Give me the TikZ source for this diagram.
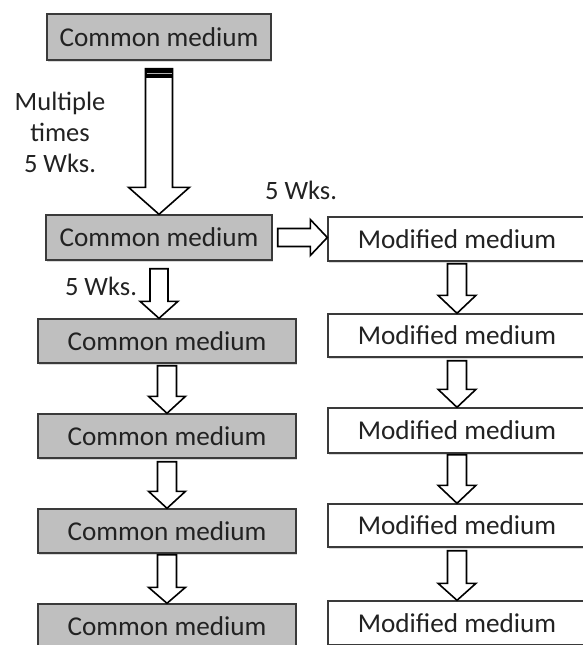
\documentclass[tikz,border=0pt]{standalone}
\usepackage{fontspec}
\setmainfont{Carlito}
\usetikzlibrary{calc,shadows}
\definecolor{boxgray}{HTML}{BFBFBF}
\definecolor{edgegray}{HTML}{3A3A3A}
\definecolor{txt}{HTML}{222222}
\tikzset{
  medbox/.style={draw=edgegray, line width=1.4pt, rectangle, inner sep=0pt,
    minimum width=258pt, minimum height=44pt, text=txt,
    font=\fontsize{27.2}{29}\selectfont,
    drop shadow={shadow xshift=0.8pt, shadow yshift=-1.6pt, opacity=0.3}},
  commonbox/.style={medbox, fill=boxgray},
  modbox/.style={medbox, fill=white},
  fatarrow/.style={draw=black, fill=white, line width=1.6pt, line join=miter},
  lbl/.style={text=txt, font=\fontsize{26.5}{31}\selectfont, inner sep=0pt}
}
% #1 from, #2 to, #3 shaft half, #4 head half, #5 head length, #6 top gap
\newcommand\fatdown[6]{%
  \draw[fatarrow] let \p1=(#1.south), \p2=(#2.north) in
    (\x1-#3pt,\y1-#6pt) -- (\x1+#3pt,\y1-#6pt) -- (\x1+#3pt,\y2+#5pt)
    -- (\x1+#4pt,\y2+#5pt) -- (\x1,\y2) -- (\x1-#4pt,\y2+#5pt)
    -- (\x1-#3pt,\y2+#5pt) -- cycle;}
\begin{document}
\begin{tikzpicture}[x=1pt,y=-1pt]
\useasboundingbox (0,0) rectangle (582,645);
% left column
\node[commonbox, minimum width=224pt, minimum height=46pt] (C1) at (159,37) {Common medium};
\node[commonbox, minimum width=226pt, minimum height=45pt] (C2) at (159,237.5) {Common medium};
\node[commonbox] (C3) at (167,341) {Common medium};
\node[commonbox] (C4) at (167,436) {Common medium};
\node[commonbox] (C5) at (167,531) {Common medium};
\node[commonbox] (C6) at (167,626) {Common medium};
% right column
\node[modbox] (M2) at (457,239) {Modified medium};
\node[modbox, minimum height=43pt] (M3) at (457,335.5) {Modified medium};
\node[modbox, minimum height=45pt] (M4) at (457,430.5) {Modified medium};
\node[modbox, minimum height=43pt] (M5) at (457,525.5) {Modified medium};
\node[modbox] (M6) at (457,623) {Modified medium};
% big arrow
\fatdown{C1}{C2}{13.5}{30.5}{27}{8}
\path let \p1=(C1.south) in coordinate (bt) at (\x1,\y1-8pt);
\fill[black] ($(bt)+(-13.5,0)$) rectangle ($(bt)+(13.5,9)$);
\draw[gray!60, line width=1.2pt] ($(bt)+(-12.5,4.5)$) -- ($(bt)+(12.5,4.5)$);
% down arrows
\fatdown{C2}{C3}{9}{19}{17}{8}
\fatdown{C3}{C4}{9.5}{18.5}{17}{2}
\fatdown{C4}{C5}{9.5}{18.5}{17}{3}
\fatdown{C5}{C6}{9.5}{18.5}{16}{1}
\fatdown{M2}{M3}{9.5}{19}{18}{2}
\fatdown{M3}{M4}{9.5}{19}{18}{3}
\fatdown{M4}{M5}{9.5}{19}{18}{1}
\fatdown{M5}{M6}{9.5}{19}{17}{3}
% right arrow
\draw[fatarrow] let \p1=(C2.east), \p2=(M2.west) in
  (\x1+5pt,\y1+9pt) -- (\x2-17pt,\y1+9pt) -- (\x2-17pt,\y1+18pt) -- (\x2,\y1)
  -- (\x2-17pt,\y1-18pt) -- (\x2-17pt,\y1-9pt) -- (\x1+5pt,\y1-9pt) -- cycle;
% labels
\node[lbl, align=center, anchor=base] (L1) at (60,172) {Multiple\\times\\5 Wks.};
\node[lbl, anchor=base] (L2) at (301,199) {5 Wks.};
\node[lbl, anchor=base] (L3) at (101,295) {5 Wks.};
\end{tikzpicture}
\end{document}
